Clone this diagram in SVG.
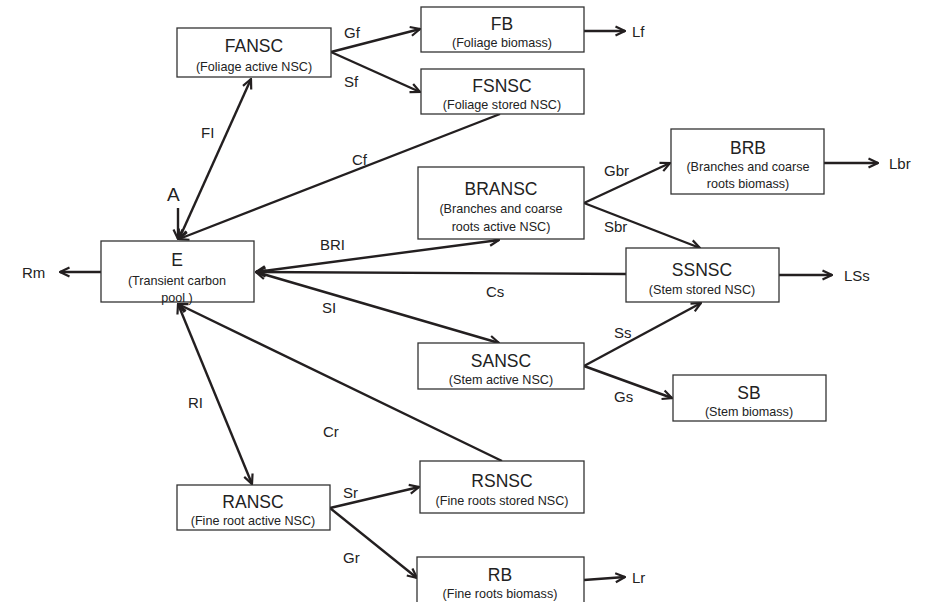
<svg xmlns="http://www.w3.org/2000/svg" width="927" height="602" viewBox="0 0 927 602">
<style>
.box{fill:#fff;stroke:#333;stroke-width:1.3}
.t{font-family:"Liberation Sans",Arial,sans-serif;font-size:17.5px;fill:#222;text-anchor:middle}
.s{font-family:"Liberation Sans",Arial,sans-serif;font-size:12.6px;fill:#222;text-anchor:middle}
.l{font-family:"Liberation Sans",Arial,sans-serif;font-size:15px;fill:#222}
.c{stroke:#231f20;stroke-width:2.4;fill:none}
</style>
<defs>
<marker id="ah" viewBox="0 0 12 12" refX="11" refY="6" markerWidth="12" markerHeight="12" markerUnits="userSpaceOnUse" orient="auto-start-reverse">
<path d="M1.5,1.5 L11,6 L1.5,10.5" fill="none" stroke="#231f20" stroke-width="2.2"/>
</marker>
</defs>
<rect width="927" height="602" fill="#fff"/>
<g id="connectors">
<line class="c" x1="331" y1="52" x2="420" y2="29" marker-end="url(#ah)"/>
<line class="c" x1="331" y1="52" x2="420" y2="92" marker-end="url(#ah)"/>
<line class="c" x1="584" y1="31" x2="625" y2="31" marker-end="url(#ah)"/>
<line class="c" x1="179" y1="239" x2="251" y2="79" marker-start="url(#ah)" marker-end="url(#ah)"/>
<line class="c" x1="178" y1="208" x2="178" y2="239" marker-end="url(#ah)"/>
<line class="c" x1="500" y1="114" x2="179" y2="239" marker-end="url(#ah)"/>
<line class="c" x1="101" y1="272" x2="60" y2="272" marker-end="url(#ah)"/>
<line class="c" x1="256" y1="272" x2="499" y2="240" marker-start="url(#ah)" marker-end="url(#ah)"/>
<line class="c" x1="626" y1="274" x2="256" y2="272" marker-end="url(#ah)"/>
<line class="c" x1="256" y1="272" x2="499" y2="343" marker-start="url(#ah)" marker-end="url(#ah)"/>
<line class="c" x1="584" y1="203" x2="670" y2="163" marker-end="url(#ah)"/>
<line class="c" x1="584" y1="203" x2="700" y2="248" marker-end="url(#ah)"/>
<line class="c" x1="824" y1="163" x2="878" y2="163" marker-end="url(#ah)"/>
<line class="c" x1="779" y1="275" x2="832" y2="275" marker-end="url(#ah)"/>
<line class="c" x1="584" y1="366" x2="701" y2="303" marker-end="url(#ah)"/>
<line class="c" x1="584" y1="366" x2="672" y2="398" marker-end="url(#ah)"/>
<line class="c" x1="178" y1="304" x2="252" y2="484" marker-start="url(#ah)" marker-end="url(#ah)"/>
<line class="c" x1="502" y1="461" x2="178" y2="304" marker-end="url(#ah)"/>
<line class="c" x1="330" y1="508" x2="419" y2="487" marker-end="url(#ah)"/>
<line class="c" x1="330" y1="508" x2="417" y2="578" marker-end="url(#ah)"/>
<line class="c" x1="584" y1="580" x2="625" y2="577" marker-end="url(#ah)"/>
<text class="l" x="344" y="38">Gf</text>
<text class="l" x="344" y="87">Sf</text>
<text class="l" x="632" y="37">Lf</text>
<text class="l" x="201" y="138">FI</text>
<text class="l" x="167" y="201" style="font-size:19px">A</text>
<text class="l" x="352" y="165">Cf</text>
<text class="l" x="22" y="278">Rm</text>
<text class="l" x="320" y="250">BRI</text>
<text class="l" x="486" y="297">Cs</text>
<text class="l" x="322" y="313">SI</text>
<text class="l" x="604" y="176">Gbr</text>
<text class="l" x="604" y="232">Sbr</text>
<text class="l" x="889" y="169">Lbr</text>
<text class="l" x="844" y="281">LSs</text>
<text class="l" x="614" y="338">Ss</text>
<text class="l" x="614" y="402">Gs</text>
<text class="l" x="188" y="408">RI</text>
<text class="l" x="323" y="437">Cr</text>
<text class="l" x="343" y="498">Sr</text>
<text class="l" x="343" y="563">Gr</text>
<text class="l" x="632" y="583">Lr</text>
</g>
<g id="FANSC"><rect class="box" x="177" y="28" width="154" height="49"/><text class="t" x="254" y="52">FANSC</text><text class="s" x="254" y="71">(Foliage active NSC)</text></g>
<g id="FB"><rect class="box" x="421" y="7" width="163" height="45"/><text class="t" x="502" y="30">FB</text><text class="s" x="502" y="47">(Foliage biomass)</text></g>
<g id="FSNSC"><rect class="box" x="421" y="69" width="163" height="45"/><text class="t" x="502" y="92">FSNSC</text><text class="s" x="502" y="109">(Foliage stored NSC)</text></g>
<g id="E"><rect class="box" x="101" y="241" width="153" height="61"/><text class="t" x="177" y="266">E</text><text class="s" x="177" y="285">(Transient carbon</text><text class="s" x="177" y="302">pool )</text></g>
<g id="BRANSC"><rect class="box" x="418" y="167" width="166" height="72"/><text class="t" x="501" y="195">BRANSC</text><text class="s" x="501" y="213">(Branches and coarse</text><text class="s" x="501" y="231">roots active NSC)</text></g>
<g id="BRB"><rect class="box" x="671" y="129" width="153" height="65"/><text class="t" x="748" y="154">BRB</text><text class="s" x="748" y="171">(Branches and coarse</text><text class="s" x="748" y="188">roots biomass)</text></g>
<g id="SSNSC"><rect class="box" x="626" y="248" width="153" height="54"/><text class="t" x="702" y="276">SSNSC</text><text class="s" x="702" y="294">(Stem stored NSC)</text></g>
<g id="SANSC"><rect class="box" x="418" y="343" width="166" height="46"/><text class="t" x="501" y="367">SANSC</text><text class="s" x="501" y="384">(Stem active NSC)</text></g>
<g id="SB"><rect class="box" x="673" y="375" width="153" height="46"/><text class="t" x="749" y="399">SB</text><text class="s" x="749" y="416">(Stem biomass)</text></g>
<g id="RANSC"><rect class="box" x="177" y="485" width="153" height="45"/><text class="t" x="253" y="508">RANSC</text><text class="s" x="253" y="525">(Fine root active NSC)</text></g>
<g id="RSNSC"><rect class="box" x="420" y="461" width="164" height="52"/><text class="t" x="502" y="487">RSNSC</text><text class="s" x="502" y="505">(Fine roots stored NSC)</text></g>
<g id="RB"><rect class="box" x="417" y="557" width="167" height="50"/><text class="t" x="500" y="581">RB</text><text class="s" x="500" y="598">(Fine roots biomass)</text></g>
</svg>
